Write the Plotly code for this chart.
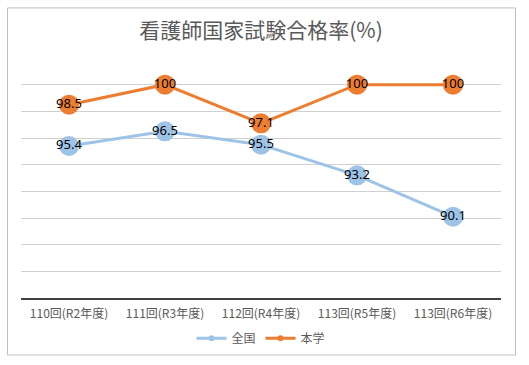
import plotly.graph_objects as go

categories = ["110回(R2年度)", "111回(R3年度)", "112回(R4年度)", "113回(R5年度)", "113回(R6年度)"]
national = [95.4, 96.5, 95.5, 93.2, 90.1]
school = [98.5, 100, 97.1, 100, 100]
series_names = ["全国", "本学"]
title_text = "看護師国家試験合格率(%)"

BLUE = "#9DC3E6"
ORANGE = "#ED7D31"
JP = "Noto Sans CJK JP"

fig = go.Figure()

for name, vals, col in [(series_names[0], national, BLUE), (series_names[1], school, ORANGE)]:
    fig.add_trace(go.Scatter(
        x=categories, y=vals, mode="lines+markers+text", name=name,
        text=[f"{v:g}" for v in vals], textposition="middle center",
        textfont=dict(family="Noto Sans, sans-serif", size=13, color="#000000"),
        line=dict(color=col, width=3), marker=dict(color=col, size=20),
        showlegend=False, cliponaxis=False, hoverinfo="skip",
    ))
    fig.add_trace(go.Scatter(
        x=[None], y=[None], mode="lines+markers", name=name,
        line=dict(color=col, width=3), marker=dict(color=col, size=6),
        showlegend=True, hoverinfo="skip",
    ))

fig.update_layout(
    width=529, height=365,
    margin=dict(l=21, r=28, t=58, b=65),
    paper_bgcolor="white", plot_bgcolor="white",
    title=dict(text=title_text, x=0.5, xref="paper", y=1 - 31 / 365, yanchor="middle",
               font=dict(family=JP, size=21, color="#595959")),
    font=dict(family=JP, color="#595959"),
    showlegend=True,
    legend=dict(orientation="h", x=0.5, xanchor="center", y=-0.168, yanchor="middle",
                font=dict(family=JP, size=12, color="#595959"), itemwidth=30,
                traceorder="normal"),
    xaxis=dict(range=[-0.5, len(categories) - 0.5], showgrid=False, showline=True,
               linecolor="#404040", linewidth=2, ticklabelstandoff=4,
               ticks="", tickfont=dict(family=JP, size=12, color="#595959"),
               fixedrange=True),
    yaxis=dict(range=[84, 102], dtick=2, tick0=84, showgrid=True, gridcolor="#D0D0D0",
               gridwidth=1, showticklabels=False, zeroline=False, ticks="", fixedrange=True),
    shapes=[dict(type="rect", xref="paper", yref="paper",
                 x0=(7.5 - 21) / 480, x1=(515.5 - 21) / 480,
                 y0=(300 - 357.5) / 242, y1=(300 - 7.5) / 242,
                 line=dict(color="#BFBFBF", width=1), fillcolor="rgba(0,0,0,0)", layer="below")],
)

fig.write_html("out.html", config={"displayModeBar": False},
               post_script="document.body.style.margin='0';document.body.style.overflow='hidden';")
